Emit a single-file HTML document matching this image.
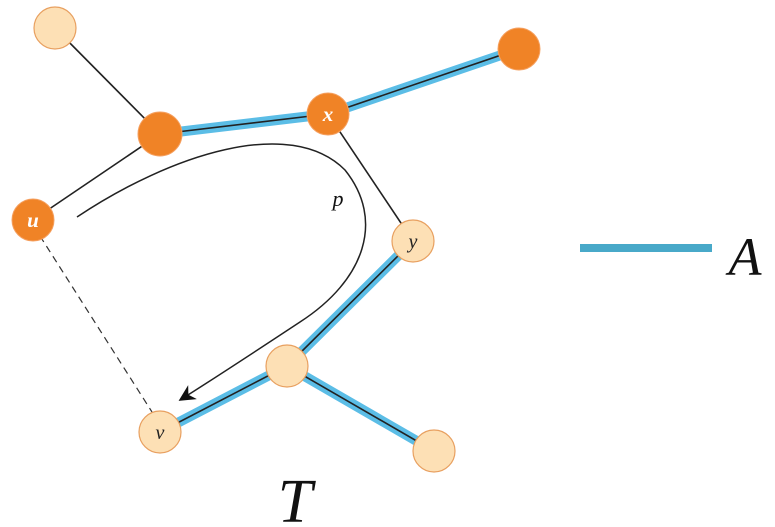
<!DOCTYPE html>
<html><head><style>body{margin:0;background:#fff}svg{display:block}</style></head><body>
<svg width="775" height="527" viewBox="0 0 775 527" xmlns="http://www.w3.org/2000/svg">
<defs><marker id="ah" viewBox="0 0 10 10" refX="9" refY="5" markerWidth="11" markerHeight="11" orient="auto"><path d="M0,0 L10,5 L0,10 L3,5z" fill="#111"/></marker></defs>
<g stroke="#5bbde6" stroke-width="10" stroke-linecap="round">
<line x1="160" y1="134" x2="328" y2="114"/><line x1="328" y1="114" x2="519" y2="49"/>
<line x1="413" y1="241" x2="287" y2="366"/><line x1="287" y1="366" x2="160" y2="432"/><line x1="287" y1="366" x2="434" y2="451"/>
</g>
<g stroke="#222" stroke-width="1.6">
<line x1="160" y1="134" x2="328" y2="114"/><line x1="328" y1="114" x2="519" y2="49"/>
<line x1="413" y1="241" x2="287" y2="366"/><line x1="287" y1="366" x2="160" y2="432"/><line x1="287" y1="366" x2="434" y2="451"/>
<line x1="55" y1="28" x2="160" y2="134"/><line x1="160" y1="134" x2="33" y2="220"/><line x1="328" y1="114" x2="413" y2="241"/>
</g>
<line x1="40" y1="236" x2="152" y2="412" stroke="#333" stroke-width="1.2" stroke-dasharray="7,5"/>
<path d="M77,217 C170,155 290,115 345,170 C385,220 365,280 300,322 C250,355 215,378 180,400" fill="none" stroke="#222" stroke-width="1.5" marker-end="url(#ah)"/>
<g stroke="#e8a060" stroke-width="1.2" fill="#fde0b5">
<circle cx="55" cy="28" r="21"/><circle cx="413" cy="241" r="21"/><circle cx="287" cy="366" r="21"/><circle cx="160" cy="432" r="21"/><circle cx="434" cy="451" r="21"/>
</g>
<g fill="#f08326" stroke="#f5a060" stroke-width="1">
<circle cx="160" cy="134" r="22"/><circle cx="328" cy="114" r="21"/><circle cx="519" cy="49" r="21"/><circle cx="33" cy="220" r="21"/>
</g>
<g font-family="Liberation Serif, serif" font-style="italic" text-anchor="middle">
<text x="328" y="121" font-size="21" font-weight="bold" fill="#fff">x</text>
<text x="33" y="227" font-size="21" font-weight="bold" fill="#fff">u</text>
<text x="413" y="248" font-size="20" fill="#222">y</text>
<text x="160" y="439" font-size="20" fill="#222">v</text>
<text x="338" y="206" font-size="22" fill="#111">p</text>
<text x="295" y="522" font-size="62" fill="#111">T</text>
<text x="745" y="275" font-size="54" fill="#111">A</text>
</g>
<line x1="580" y1="248" x2="712" y2="248" stroke="#48a9c9" stroke-width="8"/>
</svg>
</body></html>
